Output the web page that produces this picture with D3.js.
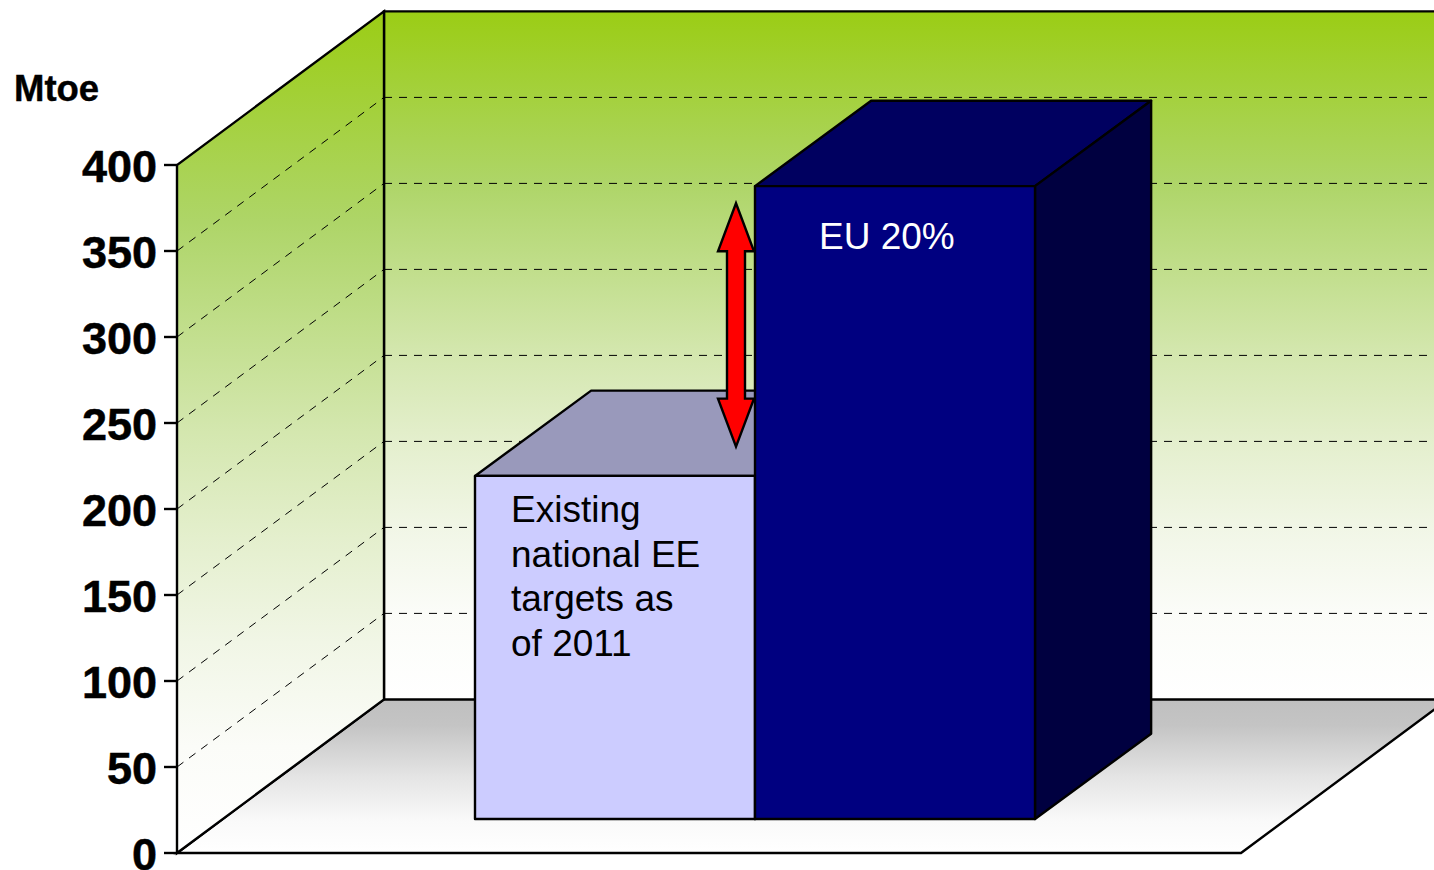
<!DOCTYPE html>
<html><head><meta charset="utf-8">
<script src="https://cdn.jsdelivr.net/npm/d3@7"></script>
<style>html,body{margin:0;padding:0;background:#fff;overflow:hidden}svg{display:block}text{font-family:"Liberation Sans",Arial,sans-serif}</style>
</head><body><svg id="c" width="1434" height="870"></svg>
<script>
const categories = ["Existing national EE targets as of 2011", "EU 20%"];
const values = [199.5, 368];
const tickValues = [0, 50, 100, 150, 200, 250, 300, 350, 400];
const gridValues = [50, 100, 150, 200, 250, 300, 350];
const barLabelLines = [["Existing", "national EE", "targets as", "of 2011"], ["EU 20%"]];
const gapArrow = [216.5, 358];
const yTitle = "Mtoe";

const W = 1434, H = 870;
const svg = d3.select("#c");
const defs = svg.append("defs");
function grad(id, stops, y1, y2) {
  const g = defs.append("linearGradient").attr("id", id).attr("gradientUnits", "userSpaceOnUse")
    .attr("x1", 0).attr("x2", 0).attr("y1", y1).attr("y2", y2);
  stops.forEach(s => g.append("stop").attr("offset", s[0]).attr("stop-color", s[1]));
}
const y = d3.scaleLinear().domain([0, 400]).range([853, 165]);
const depthX = d3.scaleLinear().domain([0, 1]).range([0, 207]);
const depthY = d3.scaleLinear().domain([0, 1]).range([0, -153.6]);
const xFloor = d3.scaleLinear().domain([0, 1]).range([177, 1241]);
const barDepthStart = 0.221, barDepthEnd = 0.782, barRearLift = 0.99;
const xBand = d3.scaleBand().domain(categories).range([475 - depthX(barDepthStart), 1035 - depthX(barDepthStart)]);
const P = (x, v, d) => [x + depthX(d), y(v) + depthY(d)];
// rear corners of a bar: same x as the depth position, slightly shallower rise
const R = (x, v) => [x + depthX(barDepthEnd), y(v) + depthY(barDepthStart) + depthY(barDepthEnd - barDepthStart) * barRearLift];
const poly = pts => "M" + pts.map(p => p.join(",")).join("L") + "Z";
const line = pts => "M" + pts.map(p => p.join(",")).join("L");

const wallStops = [[0, "#9bcd15"], [0.25, "#aed568"], [0.5, "#d4e7af"], [0.625, "#e4efcd"], [0.75, "#f1f6e6"], [0.873, "#fbfcf8"], [1, "#ffffff"]];
grad("wallBack", wallStops, 12, 699);
grad("wallLeft", wallStops, 12, 853);
grad("floor", [[0, "#bfbfbf"], [0.17, "#c4c4c4"], [0.5, "#e4e4e4"], [0.8, "#fafafa"], [1, "#ffffff"]], 699, 853);

const x0 = xFloor(0), x1 = xFloor(1);
const stroke = "#000", sw = 2.4;
// floor
svg.append("path").attr("d", poly([P(x0,0,0), P(x0,0,1), P(x1,0,1), P(x1,0,0)])).attr("fill", "url(#floor)").attr("stroke", stroke).attr("stroke-width", sw);
// back wall
svg.append("path").attr("d", poly([P(x0,0,1), P(x0,400,1), P(x1,400,1), P(x1,0,1)])).attr("fill", "url(#wallBack)").attr("stroke", stroke).attr("stroke-width", sw);
// left wall
svg.append("path").attr("d", poly([P(x0,0,0), P(x0,400,0), P(x0,400,1), P(x0,0,1)])).attr("fill", "url(#wallLeft)").attr("stroke", stroke).attr("stroke-width", sw);
// gridlines
const grid = svg.append("g").attr("fill", "none").attr("stroke", "#000").attr("stroke-width", 1).attr("stroke-dasharray", "8,7");
gridValues.forEach(v => {
  grid.append("path").attr("d", line([P(x0,v,0), P(x0,v,1)]));
  grid.append("path").attr("d", line([P(x0,v,1), P(x1,v,1)]));
});
// ticks and labels
const axis = svg.append("g");
tickValues.forEach(v => {
  axis.append("line").attr("x1", x0 - 13).attr("x2", x0).attr("y1", y(v)).attr("y2", y(v)).attr("stroke", "#000").attr("stroke-width", sw);
  axis.append("text").attr("x", x0 - 20).attr("y", y(v) + 16.5).attr("text-anchor", "end")
    .attr("font-size", 45).attr("font-weight", "bold").attr("fill", "#000").attr("stroke", "#000").attr("stroke-width", 0.5).text(v);
});
svg.append("text").attr("x", 14).attr("y", 101).attr("font-size", 36.5).attr("font-weight", "bold").attr("fill", "#000").attr("stroke", "#000").attr("stroke-width", 0.4).text(yTitle);

// bars
const barStyles = [
  {front: "#ccccff", top: "#9999bb", side: "#9999bb"},
  {front: "#000080", top: "#000060", side: "#000040"}
];
function drawBar(i) {
  const c = categories[i], v = values[i], s = barStyles[i];
  const l = xBand(c), r = l + xBand.bandwidth();
  const g = svg.append("g").attr("stroke", "#000").attr("stroke-width", sw).attr("stroke-linejoin", "round");
  g.append("path").attr("d", poly([P(l,v,barDepthStart), R(l,v), R(r,v), P(r,v,barDepthStart)])).attr("fill", s.top);
  g.append("path").attr("d", poly([P(r,0,barDepthStart), P(r,v,barDepthStart), R(r,v), R(r,0)])).attr("fill", s.side);
  g.append("path").attr("d", poly([P(l,0,barDepthStart), P(l,v,barDepthStart), P(r,v,barDepthStart), P(r,0,barDepthStart)])).attr("fill", s.front);
}
drawBar(0);
// double arrow showing the gap
const ay = d3.scaleLinear().domain([0, 400]).range([819, 131]);
const ax = 736, headH = 18, shaftH = 9, headLen = 48;
const aTop = ay(gapArrow[1]), aBot = ay(gapArrow[0]);
svg.append("path").attr("d", poly([
  [ax, aTop], [ax + headH, aTop + headLen], [ax + shaftH, aTop + headLen], [ax + shaftH, aBot - headLen],
  [ax + headH, aBot - headLen], [ax, aBot], [ax - headH, aBot - headLen], [ax - shaftH, aBot - headLen],
  [ax - shaftH, aTop + headLen], [ax - headH, aTop + headLen]
])).attr("fill", "#ff0000").attr("stroke", "#000").attr("stroke-width", sw).attr("stroke-linejoin", "miter");
drawBar(1);

// bar labels
const label1 = svg.append("text").attr("font-size", 37).attr("fill", "#000");
barLabelLines[0].forEach((t, i) => label1.append("tspan").attr("x", 511).attr("y", 522 + i * 44.5).text(t));
svg.append("text").attr("x", 819).attr("y", 249).attr("font-size", 37).attr("fill", "#fff").text(barLabelLines[1][0]);
</script></body></html>
